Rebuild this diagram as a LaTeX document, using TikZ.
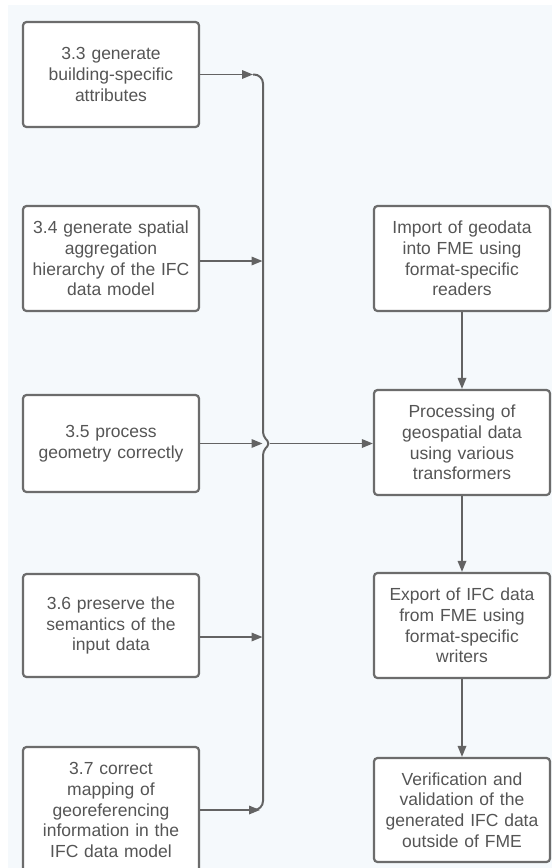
\documentclass[tikz,border=0pt]{standalone}
\usepackage{fontspec}
\setmainfont{Liberation Sans}
\usetikzlibrary{arrows.meta}
\definecolor{linegray}{HTML}{636363}
\definecolor{boxgray}{HTML}{6C6C6C}
\definecolor{textgray}{HTML}{555555}
\definecolor{paleblue}{HTML}{F5F9FC}
\tikzset{procbox/.style = {draw=boxgray, line width=2.2pt, rounded corners=3.5pt, fill=white, text=textgray, minimum width=176pt, text width=168pt, align=center, inner sep=0pt, font=\fontsize{17.5}{20.8}\selectfont}}
\tikzset{flow/.style = {draw=linegray, line width=1.7pt, -{Triangle[length=11pt,width=8.5pt]}}}
\tikzset{busline/.style = {draw=linegray, line width=2pt}}
\def\LX{111}
\def\RX{462}
\def\BX{263}

\begin{document}
\begin{tikzpicture}[x=1pt, y=-1pt]
		% Background
		\useasboundingbox (0,0) rectangle (552,868);
		\fill[white] (0,0) rectangle (552,868);
		\fill[paleblue] (8,5) rectangle (552,868);
		
		% Left column
		\node[procbox, minimum height=105pt] (l1) at (\LX,74.5) {3.3 generate\\building-specific\\attributes};
		\node[procbox, minimum height=105pt] (l2) at (\LX,258.5) {3.4 generate spatial\\aggregation\\hierarchy of the IFC\\data model};
		\node[procbox, minimum height=97pt] (l3) at (\LX,443.5) {3.5 process\\geometry correctly};
		\node[procbox, minimum height=103pt] (l4) at (\LX,625.5) {3.6 preserve the\\semantics of the\\input data};
		\node[procbox, minimum height=126pt] (l5) at (\LX,810) {3.7 correct\\mapping of\\georeferencing\\information in the\\IFC data model};
		
		% Right column
		\node[procbox, minimum height=105pt] (r1) at (\RX,258.5) {Import of geodata\\into FME using\\format-specific\\readers};
		\node[procbox, minimum height=105pt] (r2) at (\RX,442.5) {Processing of\\geospatial data\\using various\\transformers};
		\node[procbox, minimum height=105pt] (r3) at (\RX,625.5) {Export of IFC data\\from FME using\\format-specific\\writers};
		\node[procbox, minimum height=104pt] (r4) at (\RX,810) {Verification and\\validation of the\\generated IFC data\\outside of FME};
		
		% Brace
		\coordinate (b1) at (\BX-10,74.5);
		\coordinate (b2) at (\BX-0.5,261);
		\coordinate (b3) at (\BX-0.5,443.5);
		\coordinate (b4) at (\BX-0.5,637);
		\coordinate (b5) at (\BX-3,810);
		\coordinate (tip) at (\BX+7,443.5);
		\draw[busline] (b1) [rounded corners=9pt] -- (\BX,74.5) [rounded corners=4pt] -- (\BX,436) -- (tip) -- (\BX,451) [rounded corners=9pt] -- (\BX,810) -- (\BX-8,810);
		
		% Arrows into the brace
		\draw[flow] (l1.east) -- (b1);
		\draw[flow] (l2.east |- b2) -- (b2);
		\draw[flow] (l3.east |- b3) -- (b3);
		\draw[flow] (l4.east |- b4) -- (b4);
		\draw[flow] (l5.east |- b5) -- (b5);
		
		% Flow on the right
		\draw[flow] (tip) -- (r2.west |- tip);
		\foreach \a/\b in {r1/r2, r2/r3, r3/r4}
		{
			\draw[flow] (\a.south) -- (\b.north);
		}
\end{tikzpicture}
\end{document}
